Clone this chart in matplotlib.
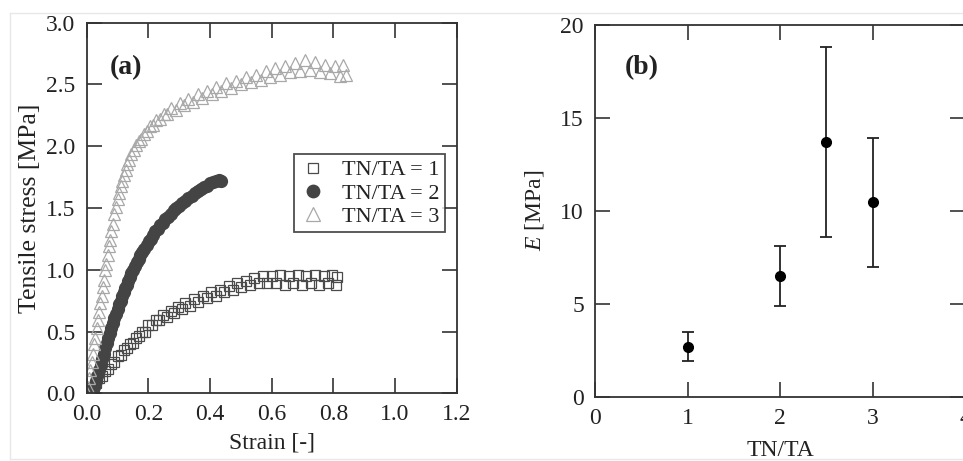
import matplotlib
matplotlib.use("Agg")
import matplotlib.pyplot as plt
from matplotlib.lines import Line2D

plt.rcParams['font.family'] = ['Liberation Serif', 'DejaVu Serif']
plt.rcParams['mathtext.fontset'] = 'custom'
plt.rcParams['mathtext.rm'] = 'Liberation Serif'
plt.rcParams['mathtext.it'] = 'Liberation Serif:italic'

# (a) stress-strain curves
tri_x = [0.000, 0.004, 0.008, 0.012, 0.016, 0.020, 0.024, 0.028, 0.032, 0.036,
         0.040, 0.044, 0.048, 0.052, 0.056, 0.060, 0.064, 0.068, 0.072, 0.076,
         0.080, 0.085, 0.090, 0.095, 0.100, 0.105, 0.110, 0.115, 0.120, 0.126,
         0.132, 0.138, 0.145, 0.152, 0.160, 0.168, 0.176, 0.185, 0.195, 0.205,
         0.215, 0.226, 0.238, 0.250, 0.262, 0.275, 0.288, 0.302, 0.316, 0.330,
         0.345, 0.360, 0.375, 0.390, 0.405, 0.420, 0.436, 0.452, 0.468, 0.484,
         0.500, 0.516, 0.532, 0.548, 0.564, 0.580, 0.596, 0.612, 0.628, 0.644,
         0.660, 0.676, 0.692, 0.708, 0.724, 0.740, 0.756, 0.772, 0.788, 0.804,
         0.820, 0.832, 0.840]
tri_y = [0.00, 0.05, 0.12, 0.19, 0.25, 0.32, 0.40, 0.45, 0.53, 0.59,
         0.66, 0.73, 0.79, 0.86, 0.92, 1.00, 1.05, 1.12, 1.19, 1.24,
         1.31, 1.37, 1.45, 1.51, 1.57, 1.62, 1.68, 1.72, 1.77, 1.81,
         1.86, 1.89, 1.94, 1.97, 2.01, 2.04, 2.06, 2.10, 2.12, 2.16,
         2.17, 2.21, 2.22, 2.26, 2.26, 2.31, 2.29, 2.35, 2.33, 2.38,
         2.36, 2.42, 2.39, 2.45, 2.42, 2.48, 2.45, 2.51, 2.47, 2.53,
         2.50, 2.56, 2.52, 2.58, 2.54, 2.61, 2.56, 2.63, 2.58, 2.65,
         2.60, 2.67, 2.61, 2.70, 2.62, 2.68, 2.60, 2.66, 2.59, 2.65,
         2.57, 2.66, 2.58]

circ_x = [0.020, 0.025, 0.030, 0.035, 0.040, 0.045, 0.050, 0.055, 0.060, 0.065,
          0.070, 0.075, 0.080, 0.085, 0.090, 0.095, 0.100, 0.105, 0.110, 0.115,
          0.120, 0.125, 0.130, 0.135, 0.140, 0.145, 0.150, 0.156, 0.162, 0.168,
          0.174, 0.180, 0.187, 0.194, 0.201, 0.208, 0.215, 0.223, 0.231, 0.239,
          0.247, 0.255, 0.264, 0.273, 0.282, 0.291, 0.300, 0.310, 0.320, 0.330,
          0.340, 0.350, 0.360, 0.370, 0.380, 0.390, 0.400, 0.410, 0.420, 0.428,
          0.434]
circ_y = [0.00, 0.05, 0.10, 0.14, 0.19, 0.23, 0.28, 0.32, 0.37, 0.41,
          0.45, 0.49, 0.53, 0.57, 0.61, 0.64, 0.68, 0.72, 0.75, 0.79,
          0.82, 0.85, 0.88, 0.91, 0.94, 0.97, 1.00, 1.03, 1.06, 1.09,
          1.12, 1.14, 1.17, 1.20, 1.23, 1.25, 1.28, 1.31, 1.33, 1.36,
          1.38, 1.41, 1.43, 1.45, 1.48, 1.50, 1.52, 1.54, 1.56, 1.58,
          1.60, 1.62, 1.64, 1.65, 1.67, 1.68, 1.70, 1.71, 1.72, 1.73,
          1.72]

sq_x = [0.000, 0.010, 0.020, 0.030, 0.040, 0.050, 0.060, 0.070, 0.080, 0.090,
        0.100, 0.110, 0.120, 0.130, 0.140, 0.150, 0.160, 0.170, 0.180, 0.190,
        0.200, 0.212, 0.224, 0.236, 0.248, 0.260, 0.272, 0.284, 0.296, 0.308,
        0.320, 0.334, 0.348, 0.362, 0.376, 0.390, 0.404, 0.418, 0.432, 0.446,
        0.460, 0.474, 0.488, 0.502, 0.516, 0.530, 0.544, 0.558, 0.572, 0.586,
        0.600, 0.614, 0.628, 0.642, 0.656, 0.670, 0.684, 0.698, 0.712, 0.726,
        0.740, 0.754, 0.768, 0.782, 0.796, 0.808, 0.812]
sq_y = [0.00, 0.02, 0.05, 0.08, 0.12, 0.14, 0.18, 0.20, 0.24, 0.25,
        0.30, 0.31, 0.35, 0.37, 0.40, 0.41, 0.45, 0.46, 0.50, 0.50,
        0.55, 0.55, 0.59, 0.59, 0.63, 0.62, 0.67, 0.65, 0.70, 0.68,
        0.73, 0.71, 0.76, 0.74, 0.79, 0.77, 0.82, 0.79, 0.84, 0.82,
        0.87, 0.84, 0.89, 0.86, 0.91, 0.88, 0.93, 0.89, 0.95, 0.89,
        0.95, 0.89, 0.96, 0.88, 0.95, 0.89, 0.96, 0.88, 0.95, 0.89,
        0.96, 0.88, 0.95, 0.89, 0.96, 0.88, 0.94]

# (b) Young's modulus vs TN/TA
ratio = [1, 2, 2.5, 3]
E_mean = [2.7, 6.5, 13.7, 10.5]
E_low = [1.9, 4.9, 8.6, 7.0]
E_high = [3.5, 8.1, 18.8, 13.9]

fig = plt.figure(figsize=(9.63, 4.61), dpi=100)
ink = '#222222'

# faint frame of the original scan
for xs, ys in [([10/963, 10/963], [1 - 13/461, 2/461]),
               ([10/963, 1], [1 - 13/461, 1 - 13/461]),
               ([10/963, 1], [2/461, 2/461])]:
    fig.add_artist(Line2D(xs, ys, transform=fig.transFigure, color='#e8e8e8', lw=1))

def style(ax):
    for s in ax.spines.values():
        s.set_linewidth(1.3)
        s.set_color('#333333')
    ax.tick_params(direction='in', length=11, width=1.2, color='#333333',
                   top=True, right=True, labelsize=17, labelcolor=ink, pad=8)

ax1 = fig.add_axes([86.7/963, 1 - 393.3/461, 370/963, 370.6/461])
ax1.plot(sq_x, sq_y, ls='none', marker='s', ms=7.5, mfc='none', mec='#4a4a4a',
         mew=0.9, label='TN/TA = 1')
ax1.plot(circ_x, circ_y, ls='none', marker='o', ms=8.5, mfc='#444444', mec='#444444',
         label='TN/TA = 2')
ax1.plot(tri_x, tri_y, ls='none', marker='^', ms=9, mfc='none', mec='#a8a8a8',
         mew=0.9, label='TN/TA = 3')
ax1.set_xlim(0, 1.2)
ax1.set_ylim(0, 3.0)
ax1.set_xticks([0.0, 0.2, 0.4, 0.6, 0.8, 1.0, 1.2])
ax1.set_yticks([0.0, 0.5, 1.0, 1.5, 2.0, 2.5, 3.0])
ax1.xaxis.set_major_formatter(lambda v, p: f'{v:.1f}')
ax1.yaxis.set_major_formatter(lambda v, p: f'{v:.1f}')
style(ax1)
ax1.set_xlabel('Strain [-]', fontsize=17, color=ink, labelpad=5)
ax1.set_ylabel('Tensile stress [MPa]', fontsize=18.5, color=ink, labelpad=4)
ax1.text(0.063, 0.88, '(a)', transform=ax1.transAxes, fontsize=20,
         fontweight='bold', va='center', ha='left', color=ink)
leg = ax1.legend(loc='upper right', bbox_to_anchor=(0.968, 0.645), fontsize=16,
                 frameon=True, fancybox=False, edgecolor='#222222',
                 borderpad=0.25, handletextpad=0.7, labelspacing=0.12,
                 handlelength=1.2, borderaxespad=0, markerscale=1.05)
leg.get_frame().set_linewidth(1.3)
for t in leg.get_texts():
    t.set_color(ink)

ax2 = fig.add_axes([595/963, 1 - 396.7/461, 370/963, 371.7/461])
yerr = [[m - lo for m, lo in zip(E_mean, E_low)],
        [hi - m for m, hi in zip(E_mean, E_high)]]
ax2.errorbar(ratio, E_mean, yerr=yerr, fmt='o', ms=7, color='black',
             ecolor='#222222', elinewidth=1.3, capsize=4.5, capthick=1.3)
ax2.set_xlim(0, 4)
ax2.set_ylim(0, 20)
ax2.set_xticks([0, 1, 2, 3, 4])
ax2.set_yticks([0, 5, 10, 15, 20])
style(ax2)
ax2.set_xlabel('TN/TA', fontsize=17, color=ink, labelpad=8)
ax2.set_ylabel('$E$ [MPa]', fontsize=17, color=ink, labelpad=10)
ax2.text(0.081, 0.886, '(b)', transform=ax2.transAxes, fontsize=20,
         fontweight='bold', va='center', ha='left', color=ink)

fig.savefig('out.png', dpi=100)
